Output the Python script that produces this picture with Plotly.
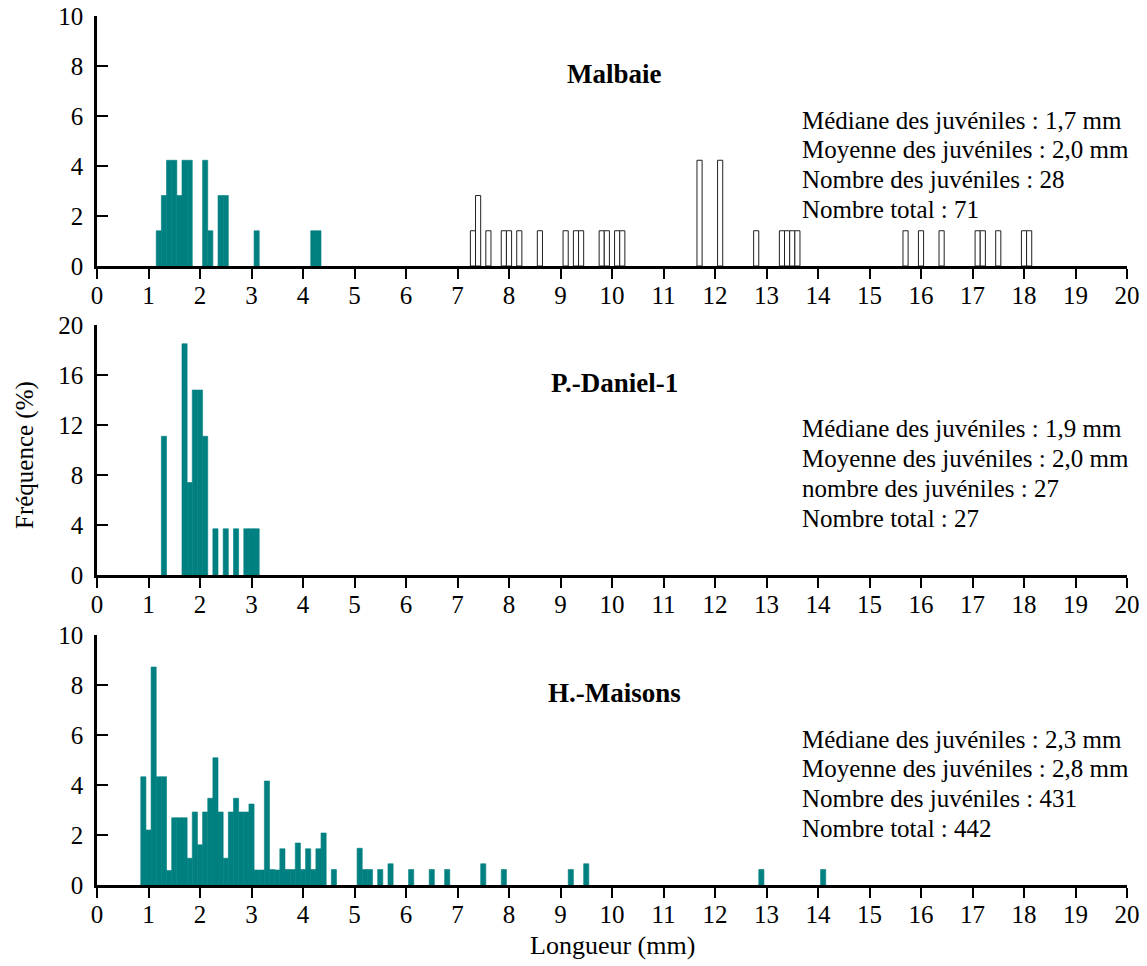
import plotly.graph_objects as go

# Longueur (mm) : centre des classes de 0,1 mm ; fréquences en %
malbaie_juv_x = [1.2, 1.3, 1.4, 1.5, 1.6, 1.7, 1.8, 2.1, 2.2, 2.4, 2.5, 3.1, 4.2, 4.3]
malbaie_juv_y = [1.41, 2.82, 4.23, 4.23, 2.82, 4.23, 4.23, 4.23, 1.41, 2.82, 2.82, 1.41, 1.41, 1.41]
malbaie_adu_x = [7.3, 7.4, 7.6, 7.9, 8.0, 8.2, 8.6, 9.1, 9.3, 9.4, 9.8, 9.9, 10.1, 10.2,
                 11.7, 12.1, 12.8, 13.3, 13.4, 13.5, 13.6, 15.7, 16.0, 16.4, 17.1, 17.2,
                 17.5, 18.0, 18.1]
malbaie_adu_y = [1.41, 2.82, 1.41, 1.41, 1.41, 1.41, 1.41, 1.41, 1.41, 1.41, 1.41, 1.41,
                 1.41, 1.41, 4.23, 4.23, 1.41, 1.41, 1.41, 1.41, 1.41, 1.41, 1.41, 1.41,
                 1.41, 1.41, 1.41, 1.41, 1.41]

daniel_x = [1.3, 1.7, 1.8, 1.9, 2.0, 2.1, 2.3, 2.5, 2.7, 2.9, 3.0, 3.1]
daniel_y = [11.1, 18.5, 7.4, 14.8, 14.8, 11.1, 3.7, 3.7, 3.7, 3.7, 3.7, 3.7]

maisons_x = [0.9, 1.0, 1.1, 1.2, 1.3, 1.4, 1.5, 1.6, 1.7, 1.8, 1.9, 2.0, 2.1, 2.2, 2.3,
             2.4, 2.5, 2.6, 2.7, 2.8, 2.9, 3.0, 3.1, 3.2, 3.3, 3.4, 3.5, 3.6, 3.7, 3.8,
             3.9, 4.0, 4.1, 4.2, 4.3, 4.4, 4.6, 5.1, 5.2, 5.3, 5.5, 5.7, 6.1, 6.5, 6.8,
             7.5, 7.9, 9.2, 9.5, 12.9, 14.1]
maisons_y = [4.33, 2.2, 8.72, 4.33, 4.33, 0.58, 2.69, 2.69, 2.69, 1.07, 2.92, 1.61, 2.92,
             3.47, 5.09, 2.92, 1.07, 2.92, 3.47, 2.92, 2.92, 3.24, 0.6, 0.6, 4.16, 0.62,
             0.6, 1.45, 0.62, 0.62, 1.68, 0.62, 1.45, 0.62, 1.45, 2.08, 0.62, 1.47, 0.62,
             0.62, 0.62, 0.85, 0.62, 0.62, 0.62, 0.85, 0.62, 0.62, 0.85, 0.62, 0.62]

site_names = ["Malbaie", "P.-Daniel-1", "H.-Maisons"]
site_stats = [
    ["Médiane des juvéniles : 1,7 mm", "Moyenne des juvéniles : 2,0 mm",
     "Nombre des juvéniles : 28", "Nombre total : 71"],
    ["Médiane des juvéniles : 1,9 mm", "Moyenne des juvéniles : 2,0 mm",
     "nombre des juvéniles : 27", "Nombre total : 27"],
    ["Médiane des juvéniles : 2,3 mm", "Moyenne des juvéniles : 2,8 mm",
     "Nombre des juvéniles : 431", "Nombre total : 442"],
]
y_ticks = [[0, 2, 4, 6, 8, 10], [0, 4, 8, 12, 16, 20], [0, 2, 4, 6, 8, 10]]
x_ticks = list(range(0, 21))

TEAL = "#008080"
FONT = "Liberation Serif"

W, H = 1147, 966
ML, MR, MT, MB = 97, 20, 16, 81
plot_w = W - ML - MR
plot_h = H - MT - MB

# pixel rows (top, bottom) of each panel
panel_px = [(16, 266), (325, 575), (635, 885)]


def py(ypx):
    return (H - MB - ypx) / plot_h


def px(xpx):
    return (xpx - ML) / plot_w


# filled bars get a hairline of their own colour so neighbouring classes merge
solid = dict(color=TEAL, line=dict(color=TEAL, width=0.6))

fig = go.Figure()

fig.add_trace(go.Bar(x=malbaie_juv_x, y=malbaie_juv_y, width=0.1, marker=solid,
                     xaxis="x", yaxis="y", showlegend=False))
fig.add_trace(go.Bar(x=malbaie_adu_x, y=malbaie_adu_y, width=0.1,
                     marker=dict(color="white", line=dict(color="#222222", width=1)),
                     xaxis="x", yaxis="y", showlegend=False))
fig.add_trace(go.Bar(x=daniel_x, y=daniel_y, width=0.1, marker=solid,
                     xaxis="x2", yaxis="y2", showlegend=False))
fig.add_trace(go.Bar(x=maisons_x, y=maisons_y, width=0.1, marker=solid,
                     xaxis="x3", yaxis="y3", showlegend=False))

layout = dict(
    width=W, height=H,
    margin=dict(l=ML, r=MR, t=MT, b=MB, autoexpand=False),
    paper_bgcolor="white", plot_bgcolor="white",
    font=dict(family=FONT, size=25, color="black"),
    barmode="overlay",
)

suffixes = ["", "2", "3"]
for i, (top, bot) in enumerate(panel_px):
    s = suffixes[i]
    layout["xaxis" + s] = dict(
        domain=[0, 1], anchor="y" + s, range=[0, 20], automargin=False,
        tickmode="array", tickvals=x_ticks, ticktext=[str(t) for t in x_ticks],
        ticks="outside", ticklen=10, tickwidth=2, tickcolor="black",
        ticklabelstandoff=-5,
        showline=True, linewidth=2.5, linecolor="black",
        showgrid=False, zeroline=False,
        tickfont=dict(family=FONT, size=25),
    )
    layout["yaxis" + s] = dict(
        domain=[py(bot), py(top)], anchor="x" + s, automargin=False,
        range=[0, y_ticks[i][-1]],
        tickmode="array", tickvals=y_ticks[i],
        ticks="inside", ticklen=11, tickwidth=2, tickcolor="black",
        ticklabelstandoff=6,
        showline=True, linewidth=2.5, linecolor="black",
        showgrid=False, zeroline=False,
        tickfont=dict(family=FONT, size=25),
    )

fig.update_layout(**layout)

annotations = []
for i, (top, bot) in enumerate(panel_px):
    annotations.append(dict(
        text="<b>" + site_names[i] + "</b>", xref="paper", yref="paper",
        x=px(614), y=py(top + 58), xanchor="center", yanchor="middle",
        showarrow=False, font=dict(family=FONT, size=27, color="black")))
    for k, line in enumerate(site_stats[i]):
        annotations.append(dict(
            text=line, xref="paper", yref="paper",
            x=px(803), y=py(top + 104 + 29.7 * k),
            xanchor="left", yanchor="middle", xshift=-3,
            showarrow=False, font=dict(family=FONT, size=25, color="black")))

annotations.append(dict(
    text="Fréquence (%)", xref="paper", yref="paper",
    x=px(25), y=py(455), xanchor="center", yanchor="middle",
    textangle=-90, showarrow=False, font=dict(family=FONT, size=25, color="black")))
annotations.append(dict(
    text="Longueur (mm)", xref="paper", yref="paper",
    x=px(612), y=py(945), xanchor="center", yanchor="middle",
    showarrow=False, font=dict(family=FONT, size=26, color="black")))

fig.update_layout(annotations=annotations)

fig.write_html("out.html")
